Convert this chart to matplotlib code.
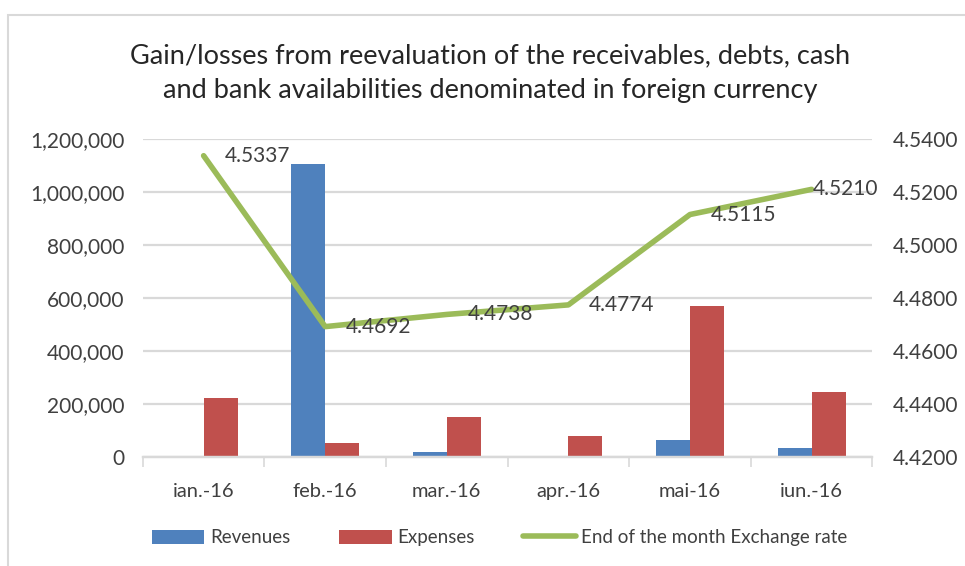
import numpy as np
import matplotlib
matplotlib.use("Agg")
from matplotlib import pyplot as plt
from matplotlib.patches import Rectangle
from matplotlib.ticker import FuncFormatter, FixedLocator

months = ["ian.-16", "feb.-16", "mar.-16", "apr.-16", "mai-16", "iun.-16"]
revenues = [5000, 1107000, 20000, 5000, 64000, 34000]
expenses = [224000, 52000, 152000, 80000, 571000, 246000]
rate = [4.5337, 4.4692, 4.4738, 4.4774, 4.5115, 4.5210]

title = ("Gain/losses from reevaluation of the receivables, debts, cash\n"
         "and bank availabilities denominated in foreign currency")

plt.rcParams["font.family"] = ["Lato", "DejaVu Sans"]
txt = "#404040"
grid = "#D9D9D9"

fig = plt.figure(figsize=(9.65, 5.66), dpi=100)
ax = fig.add_axes([0.148, 0.1926, 0.756, 0.5618])
ax2 = ax.twinx()

x = np.arange(len(months))
w = 0.28
ax.bar(x - w/2, revenues, w, color="#4F81BD", label="Revenues", zorder=2)
ax.bar(x + w/2, expenses, w, color="#C0504D", label="Expenses", zorder=2)
ax.set_xlim(-0.5, len(months) - 0.5)
ax.set_ylim(0, 1200000)
ax.set_yticks(np.arange(0, 1200001, 200000))
ax.yaxis.set_major_formatter(FuncFormatter(lambda v, p: f"{v:,.0f}"))
ax.grid(axis="y", color=grid, lw=1.6, zorder=0)
ax.set_axisbelow(True)

ax.set_xticks(x)
ax.set_xticklabels(months)
ax.xaxis.set_minor_locator(FixedLocator(np.arange(-0.5, len(months), 1)))
ax.tick_params(axis="x", which="major", length=0, pad=19, labelsize=14.5, labelcolor=txt)
ax.tick_params(axis="x", which="minor", length=7, width=1.2, color=grid)
ax.tick_params(axis="y", length=0, pad=13, labelsize=15, labelcolor=txt)

ln, = ax2.plot(x, rate, color="#9BBB59", lw=4, label="End of the month Exchange rate",
               solid_capstyle="round", zorder=3)
ax2.set_ylim(4.42, 4.54)
ax2.set_yticks(np.arange(4.42, 4.5401, 0.02))
ax2.yaxis.set_major_formatter(FuncFormatter(lambda v, p: f"{v:.4f}"))
ax2.tick_params(axis="y", length=0, pad=15, labelsize=15, labelcolor=txt)

offs = [15, 15, 15, 15, 15, 1]
for xi, r, o in zip(x, rate, offs):
    ax2.annotate(f"{r:.4f}", (xi, r), xytext=(o, 0), textcoords="offset points",
                 ha="left", va="center", fontsize=15, color=txt)

for a in (ax, ax2):
    for s in ("top", "left", "right"):
        a.spines[s].set_visible(False)
    a.spines["bottom"].set_color(grid)
    a.spines["bottom"].set_linewidth(1.6)

fig.text(0.508, 0.871, title, ha="center", va="center", fontsize=19.5,
         color="#262626", linespacing=1.5)

h1, l1 = ax.get_legend_handles_labels()
fig.legend(h1 + [ln], l1 + [ln.get_label()], loc="center", bbox_to_anchor=(0.518, 0.05),
           ncol=3, frameon=False, fontsize=13.5, labelcolor=txt, handlelength=2.8,
           handleheight=0.8, columnspacing=2.6, handletextpad=0.3)

fig.patches.append(Rectangle((8/965, -0.1), 1.1, 1.1 - 15/566, transform=fig.transFigure,
                             fill=False, ec=grid, lw=1.5))

fig.savefig("out.png", dpi=100, facecolor="white")
